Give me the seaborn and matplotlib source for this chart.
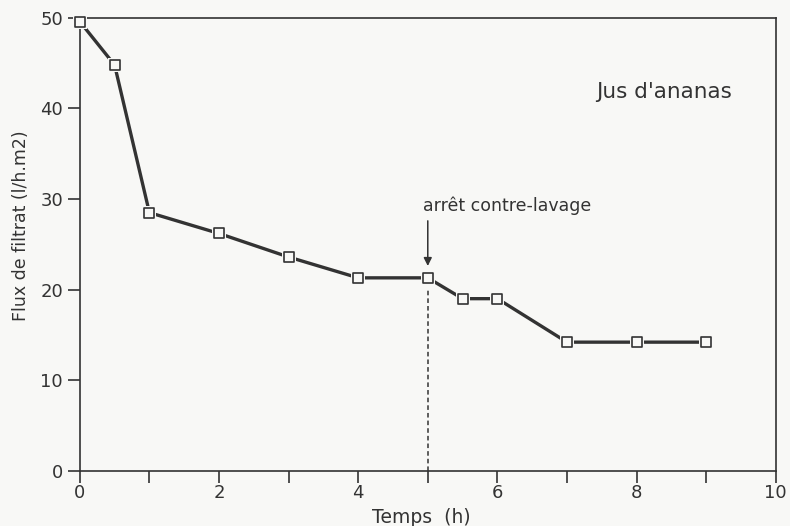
import pandas as pd
import seaborn as sns
import matplotlib.pyplot as plt
from matplotlib.ticker import MultipleLocator

# données
temps = [0, 0.5, 1, 2, 3, 4, 5, 5.5, 6, 7, 8, 9]
flux = [49.6, 44.8, 28.5, 26.2, 23.6, 21.3, 21.3, 19.0, 19.0, 14.2, 14.2, 14.2]
x_arret = 5

df = pd.DataFrame({'Temps': temps, 'Flux': flux})

sns.set_theme(style="ticks")
plt.rcParams['font.family'] = ['DejaVu Sans']

fond = '#f8f8f6'
encre = '#333333'

fig = plt.figure(figsize=(7.9, 5.26), dpi=100, facecolor=fond)
ax = fig.add_axes([0.101, 0.105, 0.881, 0.861], facecolor=fond)

sns.lineplot(data=df, x='Temps', y='Flux', color=encre, linewidth=2.4, ax=ax, zorder=2)
# petit blanc autour des carrés, comme sur l'original
ax.scatter(df['Temps'], df['Flux'], marker='s', s=110, color=fond, zorder=3,
           linewidths=0, clip_on=False)
ax.scatter(df['Temps'], df['Flux'], marker='s', s=55, facecolor=fond, edgecolor=encre,
           linewidths=1.2, zorder=4, clip_on=False)

# arrêt du contre-lavage
ax.plot([x_arret, x_arret], [0, 20.0], linestyle=(0, (3, 2)), color=encre, linewidth=1.1)
ax.annotate('', xy=(x_arret, 22.3), xytext=(x_arret, 27.9),
            arrowprops=dict(arrowstyle='-|>', color=encre, lw=1.1, mutation_scale=12))
ax.text(4.93, 29.3, 'arrêt contre-lavage', fontsize=12.5, color=encre, va='center', ha='left')
ax.text(8.4, 41.8, "Jus d'ananas", fontsize=15.5, color=encre, va='center', ha='center')

ax.set_xlim(0, 10)
ax.set_ylim(0, 50)
ax.xaxis.set_major_locator(MultipleLocator(2))
ax.xaxis.set_minor_locator(MultipleLocator(1))
ax.yaxis.set_major_locator(MultipleLocator(10))
ax.tick_params(which='both', direction='out', color=encre, labelcolor=encre, width=1.2)
ax.tick_params(which='major', length=8.5, labelsize=13)
ax.tick_params(which='minor', length=8.5)
ax.tick_params(axis='y', pad=3.5)
ax.tick_params(axis='x', pad=1)
for s in ax.spines.values():
    s.set_color(encre)
    s.set_linewidth(1.2)

ax.set_xlabel('Temps  (h)', fontsize=13.5, color=encre)
ax.set_ylabel('Flux de filtrat (l/h.m2)', fontsize=12.5, color=encre)
ax.xaxis.set_label_coords(0.49, -0.082)
ax.yaxis.set_label_coords(-0.071, 0.541)

plt.savefig('out.png', dpi=100, facecolor=fond)
